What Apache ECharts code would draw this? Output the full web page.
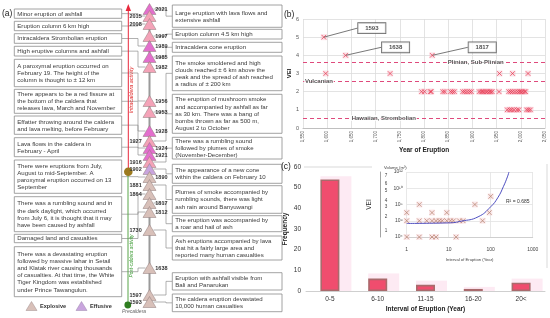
<!DOCTYPE html>
<html><head><meta charset="utf-8">
<script src="https://cdn.jsdelivr.net/npm/echarts@6/dist/echarts.min.js"></script>
<style>html,body{margin:0;padding:0;background:#fff}#c{width:550px;height:318px}</style>
</head><body><div id="c"></div>
<script>
// ================= DATA =================
// (a) timeline of eruptions (top = most recent)
const timelineYears = [2021,2015,2008,1997,1989,1985,1982,1956,1953,1928,1927,1924,1921,1916,1902,1890,1881,1864,1817,1812,1730,1638,1597,1593];
const timelineType = ['Effusive','Explosive','Explosive','Explosive','Effusive','Effusive','Explosive','Explosive','Explosive','Effusive','Explosive','Effusive','Effusive','Explosive','Effusive','Explosive','Explosive','Explosive','Explosive','Explosive','Explosive','Explosive','Explosive','Explosive'];
const leftNotes = [
  'Minor eruption of ashfall',
  'Eruption column 6 km high',
  'Intracaldera Strombolian eruption',
  'High eruptive columns and ashfall',
  'A paroxymal eruption occurred on\nFebruary 19. The height of the\ncolumn is thought to \u00b1 12 km',
  'There appears to be a red fissure at\nthe bottom of the caldera that\nreleases lava, March and November',
  'Effatter throwing around the caldera\nand lava melting, before February',
  'Lava flows in the caldera in\nFebruary - April',
  'There were eruptions from July,\nAugust to mid-September. A\nparoxymal eruption occurred on 13\nSeptember',
  'There was a rumbling sound and in\nthe dark daylight, which occurred\nfrom July 6, it is thought that it may\nhave been caused by ashfall',
  'Damaged land and casualties',
  'There was a devastating eruption\nfollowed by massive lahar in Setail\nand Klatak river causing thousands\nof casualties. At that time, the White\nTiger Kingdom was established\nunder Prince Tawangulun.'
];
const rightNotes = [
  'Large eruption with lava flows and\nextensive ashfall',
  'Eruption column 4.5 km high',
  'Intracaldera cone eruption',
  'The smoke smoldered and high\nclouds reached \u00b1 6 km above the\npeak and the spread of ash reached\na radius of \u00b1 200 km',
  'The eruption of mushroom smoke\nand accompanied by ashfall as far\nas 30 km. There was a bang of\nbombs thrown as far as 500 m,\nAugust 2 to October',
  'There was a rumbling sound\nfollowed by plumes of smoke\n(November-December)',
  'The appearance of a new cone\nwithin the caldera on February 10',
  'Plumes of smoke accompanied by\nrumbling sounds, there was light\nash rain around Banyuwangi',
  'The eruption was accompanied by\na roar and hail of ash',
  'Ash eruptions accompanied by lava\nthat hit a fairly large area and\nreported many human casualties',
  'Eruption with ashfall visible from\nBali and Panarukan',
  'The caldera eruption devastated\n10,000 human casualties'
];
const leftNoteEvent  = [1,2,4,6,7,9,11,12,15,17,19,21];
const rightNoteEvent = [0,3,5,8,10,13,14,16,18,20,22,23];

// (b) VEI vs year of eruption
const yearsVEI5 = [1593];
const yearsVEI4 = [1638, 1817];
const yearsVEI3 = [1597, 1730, 1956, 1983, 2015];
const yearsVEI2 = [1795,1801,1813,1815,1839,1843,1855,1859,1863,1880,1884,1889,1894,1898,1914,1918,1921,1924,1928,1931,1935,1938,1941,1955,1975,1979,1983,1988,1993,1997,2000,2003,2007,2010];
const yearsVEI1 = [1972,1977,1981,1986,1992,1996,2012,2016,2020];
const labelledYears = [1593, 1638, 1817];
const styleLevels = [3.6, 2.55, 0.55];
const styleNames = ['Plinian, Sub-Plinian', 'Vulcanian', 'Hawaiian, Strombolian'];

// (c) interval of eruption
const intervalClasses = ['0-5','6-10','11-15','16-20','20<'];
const intervalFreq = [54, 6, 3, 1, 4];
const intervalGlow = [55.5, 8.5, 5, 2, 6];

// (c) inset: interval vs erupted volume (log10 m3)
const insetInterval  = [100, 2, 42, 1, 4, 9, 93, 1, 2, 3, 4, 5, 6, 7, 9, 11, 13, 18, 22, 64, 1, 2, 4, 5, 15];
const insetLogVolume = [9, 8, 8, 7, 7, 7, 7, 6, 6, 6, 6, 6, 6, 6, 6, 6, 6, 6, 6, 6, 4, 4, 4, 4, 4];
const trendInterval  = [1, 10, 20, 50, 100, 150, 200, 250, 272];
const trendLogVolume = [5.67, 5.74, 5.95, 6.48, 7.72, 8.9, 10.19, 11.4, 12.0];
const rSquared = '0.685';

// ================= LAYOUT =================
const FF = '"Liberation Sans", Arial, sans-serif';
const LAY = {
  leftX: 14.3, leftW: 107.4, rightX: 172.3, rightW: 109.7,
  leftBoxY: [[9,18.3],[21.3,30.7],[33.7,43.3],[46.3,56],[59.3,86.7],[89.3,113.3],[116,134.3],[137.7,156.7],[160,193.3],[196.7,231.7],[234.3,242.7],[246.7,296.7]],
  rightBoxY: [[5,27.3],[29.3,39],[42.3,52.3],[56,90.7],[94.3,133.3],[137.3,159],[164.3,183.3],[185.7,213.3],[215.7,231.7],[236,260],[272.7,290],[294,311.7]],
  triY: [9,16,24,36,46,57,67,101,112,131,141,148,155,162,169,177,185,194,203,212,230,268,295,302],
  yearSide: ['right','left','left','right','right','right','right','right','right','right','left','right','right','left','left','right','left','left','right','right','left','right','left','left'],
  triX: 149.5,
  styleLabelYear: [1907, 1583, 1717],
  calloutOffset: [[48, -9], [50, -8], [50, -8]]
};
const TRI_COLORS = {
  intra: {Explosive: '#f4a3b8', Effusive: '#e36fcd'},
  post:  {Explosive: '#d8c0b9', Effusive: '#c9a5de'}
};

// ================= BUILD =================
const chart = echarts.init(document.getElementById('c'));
const G = [];
function T(x, y, text, st, extra) {
  return Object.assign({type: 'text', z: 5, style: Object.assign({x, y, text, fontFamily: FF, fontSize: 6, fill: '#333',
    align: 'left', verticalAlign: 'middle', textAlign: 'left', textVerticalAlign: 'middle'}, st || {})}, extra || {});
}
function RT(x, y, text, st) { // text rotated to read bottom-to-top, centred on (x, y)
  return {type: 'text', z: 5, x, y, rotation: Math.PI / 2, style: Object.assign({x: 0, y: 0, text, fontFamily: FF,
    align: 'center', verticalAlign: 'middle', textAlign: 'center', textVerticalAlign: 'middle'}, st)};
}
function line(pts, color, w, z) {
  return {type: 'polyline', z: z == null ? 1 : z, shape: {points: pts}, style: {stroke: color, lineWidth: w, fill: null}};
}

// Panel (a) boxes + connectors
const noteFont = {fontSize: 6.1, fill: '#3a3a3a', lineHeight: 7.2};
leftNotes.forEach((t, i) => {
  const [y0, y1] = LAY.leftBoxY[i];
  const cy = (y0 + y1) / 2, ty = LAY.triY[leftNoteEvent[i]];
  G.push(line([[LAY.leftX + LAY.leftW, cy], [138, cy], [138, ty], [LAY.triX - 4, ty]], '#8f8f8f', 0.7, 1));
  G.push({type: 'rect', z: 2, shape: {x: LAY.leftX, y: y0, width: LAY.leftW, height: y1 - y0}, style: {fill: '#fff', stroke: '#8c8c8c', lineWidth: 0.8}});
  G.push(T(LAY.leftX + 3, cy + 0.3, t, noteFont));
});
rightNotes.forEach((t, i) => {
  const [y0, y1] = LAY.rightBoxY[i];
  const cy = (y0 + y1) / 2, ty = LAY.triY[rightNoteEvent[i]];
  G.push(line([[LAY.rightX, cy], [166, cy], [166, ty], [LAY.triX + 4, ty]], '#8f8f8f', 0.7, 1));
  G.push({type: 'rect', z: 2, shape: {x: LAY.rightX, y: y0, width: LAY.rightW, height: y1 - y0}, style: {fill: '#fff', stroke: '#8c8c8c', lineWidth: 0.8}});
  G.push(T(LAY.rightX + 3, cy + 0.3, t, noteFont));
});
// central axis, activity arrows
G.push(line([[LAY.triX, 6], [LAY.triX, 305]], '#9a9a9a', 2, 0));
G.push(line([[128.3, 172], [128.3, 9]], '#e8283c', 1, 1));
G.push({type: 'polygon', z: 2, shape: {points: [[125.6, 11], [131, 11], [128.3, 4]]}, style: {fill: '#e8283c'}});
G.push(line([[128, 172], [128, 305]], '#58a548', 1, 1));
G.push({type: 'circle', z: 3, shape: {cx: 128.3, cy: 171.7, r: 4.3}, style: {fill: '#9c7a1e'}});
G.push({type: 'circle', z: 3, shape: {cx: 127.8, cy: 305, r: 3.4}, style: {fill: '#2f7d1f'}});
G.push(RT(131.3, 90, 'Intracaldera activity', {fontSize: 5.4, fill: '#e02a2a', fontStyle: 'italic'}));
G.push(RT(131.3, 256, 'Post-caldera activity', {fontSize: 4.8, fill: '#3d9b35', fontStyle: 'italic'}));
G.push(T(134, 311.5, 'Precaldera', {fontSize: 5, fill: '#666', fontStyle: 'italic', align: 'center', textAlign: 'center'}));
// legend
G.push({type: 'polygon', z: 3, shape: {points: [[26, 310.5], [37, 310.5], [31.5, 301.5]]}, style: {fill: TRI_COLORS.post.Explosive, stroke: '#a08f8f', lineWidth: 0.5}});
G.push(T(40, 306.5, 'Explosive', {fontSize: 5.6, fontWeight: 'bold', fill: '#333'}));
G.push({type: 'polygon', z: 3, shape: {points: [[76, 310.5], [87, 310.5], [81.5, 301.5]]}, style: {fill: TRI_COLORS.post.Effusive, stroke: '#9c86ad', lineWidth: 0.5}});
G.push(T(90, 306.5, 'Effusive', {fontSize: 5.6, fontWeight: 'bold', fill: '#333'}));
// panel tags
G.push(T(2, 14, '(a)', {fontSize: 8.5, fill: '#222'}));
G.push(T(284, 15, '(b)', {fontSize: 8.5, fill: '#222'}));
G.push(T(281, 167, '(c)', {fontSize: 8.5, fill: '#222'}));
// panel (c) frame bits and inset annotation
G.push(line([[304, 167], [372, 167]], '#cfcfcf', 0.8, 0));
G.push(line([[547, 164], [547, 268]], '#cfcfcf', 0.8, 0));
G.push(T(506, 201.5, 'R\u00b2 = ' + rSquared, {fontSize: 5, fill: '#333'}));

// timeline triangles
const triData = timelineYears.map((yr, i) => ({
  value: [0, LAY.triY[i]],
  itemStyle: {color: TRI_COLORS[yr > 1902 ? 'intra' : 'post'][timelineType[i]]},
  label: {show: true, position: LAY.yearSide[i], distance: LAY.yearSide[i] === 'right' ? -1 : 1, formatter: String(yr)}
}));

// (b) points
const veiPoints = [].concat(
  yearsVEI5.map(y => [y, 5]), yearsVEI4.map(y => [y, 4]), yearsVEI3.map(y => [y, 3]),
  yearsVEI2.map(y => [y, 2]), yearsVEI1.map(y => [y, 1]));
const calloutPts = labelledYears.map(y => veiPoints.filter(p => p[0] === y).sort((a, b) => b[1] - a[1])[0]);
const styleLabelPts = styleNames.map((n, i) => ({name: n, value: [LAY.styleLabelYear[i], styleLevels[i]]}));

const insetPts = insetInterval.map((x, i) => [x, insetLogVolume[i]]);
const trendPts = trendInterval.map((x, i) => [x, trendLogVolume[i]]);

const SUP = {4: '\u2074', 6: '\u2076', 8: '\u2078', 10: '\u00b9\u2070', 12: '\u00b9\u00b2'};
const VEI_TICK = {'4.75': '1', '6.50': '2', '7.75': '3', '8.50': '4', '9.75': '5', '10.50': '6', '11.50': '7'};
const XPATH = 'path://M0 0L10 10M10 0L0 10';
const gray = '#595959';

chart.setOption({
  animation: false,
  backgroundColor: '#fff',
  textStyle: {fontFamily: FF},
  grid: [
    {left: 143, width: 13, top: 0, height: 318},
    {left: 303, right: 5, top: 19, height: 109},
    {left: 306, right: 5, top: 167, height: 124},
    {left: 406.7, right: 17.3, top: 172, height: 65}
  ],
  xAxis: [
    {gridIndex: 0, type: 'value', min: -1, max: 1, show: false},
    {gridIndex: 1, type: 'value', min: 1550, max: 2050, interval: 50,
      name: 'Year of Eruption', nameLocation: 'middle', nameGap: 19,
      nameTextStyle: {fontSize: 6.5, fontWeight: 'bold', color: '#222'},
      axisLine: {lineStyle: {color: '#bfbfbf'}}, axisTick: {show: false},
      axisLabel: {rotate: 90, fontSize: 4.5, color: gray, margin: 3},
      splitLine: {lineStyle: {color: '#dcdcdc', width: 0.8}}},
    {gridIndex: 2, type: 'category', data: intervalClasses,
      name: 'Interval of Eruption (Year)', nameLocation: 'middle', nameGap: 15,
      nameTextStyle: {fontSize: 6.5, fontWeight: 'bold', color: '#222'},
      axisLine: {lineStyle: {color: '#cfcfcf'}}, axisTick: {show: false},
      axisLabel: {fontSize: 6.5, color: '#333', margin: 5}},
    {gridIndex: 3, type: 'log', logBase: 10, min: 1, max: 1000,
      name: 'Interval of Eruption (Year)', nameLocation: 'middle', nameGap: 21,
      nameTextStyle: {fontSize: 4.2, color: '#444'},
      axisLine: {lineStyle: {color: '#cfcfcf'}}, axisTick: {show: false},
      axisLabel: {fontSize: 5, color: '#444', margin: 10, formatter: v => String(Math.round(v))},
      splitLine: {show: true, lineStyle: {color: '#e2e2e2', width: 0.8}}}
  ],
  yAxis: [
    {gridIndex: 0, type: 'value', min: 0, max: 318, inverse: true, show: false},
    {gridIndex: 1, type: 'value', min: 0, max: 6, interval: 1,
      name: 'VEI', nameLocation: 'middle', nameGap: 11,
      nameTextStyle: {fontSize: 6, fontWeight: 'bold', color: '#222'},
      axisLine: {show: false}, axisTick: {show: false},
      axisLabel: {fontSize: 5.5, color: gray, margin: 4},
      splitLine: {lineStyle: {color: '#dcdcdc', width: 0.8}}},
    {gridIndex: 2, type: 'value', min: 0, max: 60, interval: 10,
      name: 'Frequency', nameLocation: 'middle', nameGap: 17,
      nameTextStyle: {fontSize: 6.5, fontWeight: 'bold', color: '#222'},
      axisLine: {show: false}, axisTick: {show: false},
      axisLabel: {fontSize: 6.5, color: '#333', margin: 5},
      splitLine: {show: false}},
    {gridIndex: 3, type: 'value', min: 4, max: 12, interval: 2,
      name: 'Volume (m\u00b3)', nameLocation: 'end', nameGap: 2,
      nameTextStyle: {fontSize: 4.2, color: '#444', align: 'right', padding: [0, 0, 0, 0]},
      axisLine: {show: false}, axisTick: {show: false},
      axisLabel: {fontSize: 5, color: '#444', margin: 4, formatter: v => '10' + (SUP[Math.round(v)] || '')},
      splitLine: {lineStyle: {color: '#e2e2e2', width: 0.8}}},
    {gridIndex: 3, type: 'value', min: 4, max: 12, interval: 0.25, position: 'left', offset: 26,
      name: 'VEI', nameLocation: 'middle', nameGap: 8,
      nameTextStyle: {fontSize: 6.5, color: '#333'},
      axisLine: {show: true, lineStyle: {color: '#8c8c8c', width: 0.8}}, axisTick: {show: false},
      axisLabel: {inside: true, fontSize: 4.6, color: '#444', margin: 4, formatter: v => VEI_TICK[v.toFixed(2)] || ''},
      splitLine: {show: false}}
  ],
  graphic: {elements: G},
  series: [
    {type: 'scatter', name: 'timeline', xAxisIndex: 0, yAxisIndex: 0, z: 4,
      symbol: 'triangle', symbolSize: [13, 11], data: triData,
      itemStyle: {borderColor: '#8f7a7a', borderWidth: 0.5, opacity: 1},
      label: {fontSize: 5.5, fontWeight: 'bold', color: '#333', fontFamily: FF}},
    {type: 'scatter', name: 'halo', xAxisIndex: 1, yAxisIndex: 1, symbol: 'rect', symbolSize: 6,
      data: veiPoints, itemStyle: {color: 'rgba(248,180,196,0.5)'}, z: 2,
      markLine: {silent: true, symbol: ['none', 'none'], label: {show: false},
        lineStyle: {type: [4, 3], color: '#df4a7c', width: 1.2},
        data: styleLevels.map(v => ({yAxis: v}))}},
    {type: 'scatter', name: 'VEI', xAxisIndex: 1, yAxisIndex: 1, symbol: XPATH, symbolSize: 4.5,
      data: veiPoints, itemStyle: {color: 'none', borderColor: '#e8384f', borderWidth: 0.9}, z: 3},
    {type: 'scatter', name: 'styles', xAxisIndex: 1, yAxisIndex: 1, symbolSize: 0, z: 6,
      data: styleLabelPts,
      label: {show: true, position: 'inside', formatter: p => p.name, fontSize: 6, fontWeight: 'bold',
        color: '#2a2a2a', backgroundColor: '#fff', padding: [0, 1], fontFamily: FF}},
    {type: 'scatter', name: 'callouts', xAxisIndex: 1, yAxisIndex: 1, symbolSize: 1, z: 7,
      data: calloutPts, itemStyle: {color: 'rgba(0,0,0,0)'},
      label: {show: true, position: 'inside', formatter: p => String(p.value[0]), fontSize: 6, fontWeight: 'bold',
        color: '#222', backgroundColor: '#fff', borderColor: '#444', borderWidth: 0.8, padding: [2, 7], fontFamily: FF},
      labelLayout: p => ({dx: LAY.calloutOffset[p.dataIndex][0], dy: LAY.calloutOffset[p.dataIndex][1]}),
      labelLine: {show: true, lineStyle: {color: '#555', width: 0.8}}},
    {type: 'bar', name: 'glow', xAxisIndex: 2, yAxisIndex: 2, data: intervalGlow, barWidth: 31, barGap: '-100%',
      itemStyle: {color: '#fdeaf3'}, z: 1},
    {type: 'bar', name: 'Frequency', xAxisIndex: 2, yAxisIndex: 2, data: intervalFreq, barWidth: 19, barGap: '-100%',
      itemStyle: {color: '#f04d6e', borderColor: '#a96a6c', borderWidth: 1.6}, z: 2},
    {type: 'scatter', name: 'insetHalo', xAxisIndex: 3, yAxisIndex: 3, symbol: 'rect', symbolSize: 6,
      data: insetPts, itemStyle: {color: 'rgba(245,200,205,0.5)'}, z: 2},
    {type: 'scatter', name: 'inset', xAxisIndex: 3, yAxisIndex: 3, symbol: XPATH, symbolSize: 4.5,
      data: insetPts, itemStyle: {color: 'none', borderColor: '#b5826c', borderWidth: 0.9}, z: 3},
    {type: 'line', name: 'trend', xAxisIndex: 3, yAxisIndex: 3, data: trendPts, smooth: true, showSymbol: false,
      symbol: 'none', lineStyle: {color: '#4e4fc0', width: 1}, clip: true, z: 4}
  ]
});
</script></body></html>
